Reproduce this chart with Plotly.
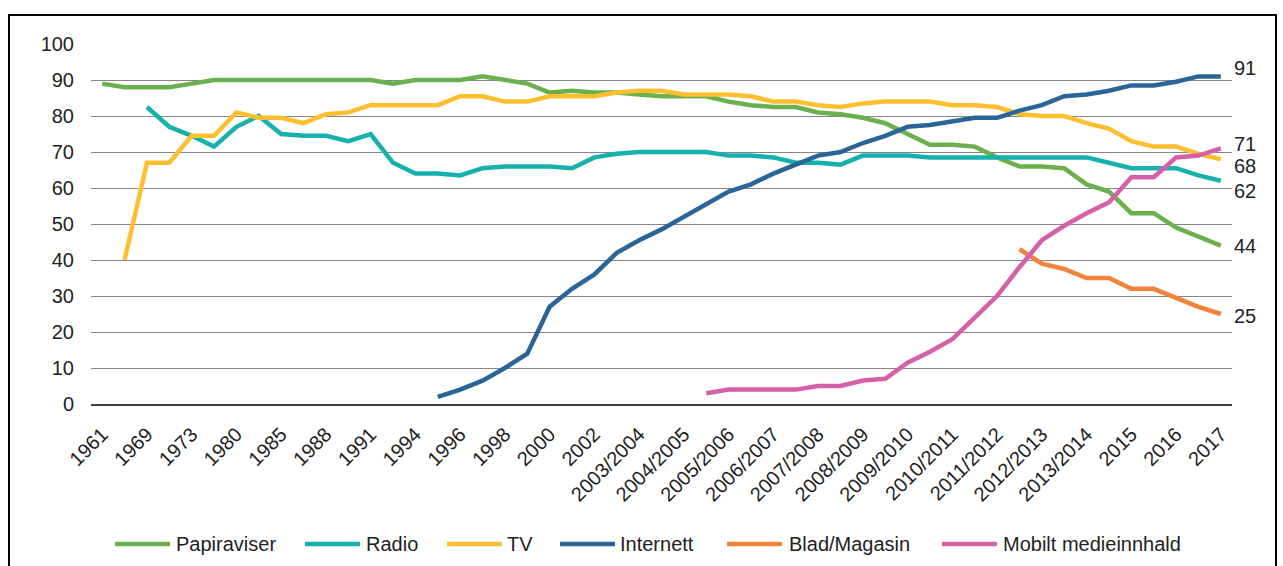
import plotly.graph_objects as go

# Survey rounds from 1961 to 2017 (every other round carries a tick label)
tick_labels = ["1961", "1969", "1973", "1980", "1985", "1988", "1991", "1994",
               "1996", "1998", "2000", "2002", "2003/2004", "2004/2005",
               "2005/2006", "2006/2007", "2007/2008", "2008/2009", "2009/2010",
               "2010/2011", "2011/2012", "2012/2013", "2013/2014", "2015",
               "2016", "2017"]
n_rounds = 51
rounds = list(range(n_rounds))
tick_positions = rounds[::2]

N = None
papiraviser = [89, 88, 88, 88, 89, 90, 90, 90, 90, 90, 90, 90, 90, 89, 90, 90, 90,
               91, 90, 89, 86.5, 87, 86.5, 86.5, 86, 85.5, 85.5, 85.5, 84, 83,
               82.5, 82.5, 81, 80.5, 79.5, 78, 75, 72, 72, 71.5, 68.5, 66, 66,
               65.5, 61, 59, 53, 53, 49, 46.5, 44]
radio = [N, N, 82.5, 77, 74.5, 71.5, 77, 80, 75, 74.5, 74.5, 73, 75, 67, 64, 64,
         63.5, 65.5, 66, 66, 66, 65.5, 68.5, 69.5, 70, 70, 70, 70, 69, 69, 68.5,
         67, 67, 66.5, 69, 69, 69, 68.5, 68.5, 68.5, 68.5, 68.5, 68.5, 68.5,
         68.5, 67, 65.5, 65.5, 65.5, 63.5, 62]
tv = [N, 40, 67, 67, 74.5, 74.5, 81, 79.5, 79.5, 78, 80.5, 81, 83, 83, 83, 83,
      85.5, 85.5, 84, 84, 85.5, 85.5, 85.5, 86.5, 87, 87, 86, 86, 86, 85.5, 84,
      84, 83, 82.5, 83.5, 84, 84, 84, 83, 83, 82.5, 80.5, 80, 80, 78, 76.5, 73,
      71.5, 71.5, 69.5, 68]
internett = [N] * 15 + [2, 4, 6.5, 10, 14, 27, 32, 36, 42, 45.5, 48.5, 52, 55.5,
                        59, 61, 64, 66.5, 69, 70, 72.5, 74.5, 77, 77.5, 78.5,
                        79.5, 79.5, 81.5, 83, 85.5, 86, 87, 88.5, 88.5, 89.5,
                        91, 91]
blad_magasin = [N] * 41 + [43, 39, 37.5, 35, 35, 32, 32, 29.5, 27, 25]
mobilt = [N] * 27 + [3, 4, 4, 4, 4, 5, 5, 6.5, 7, 11.5, 14.5, 18, 24, 30, 38,
                     45.5, 49.5, 53, 56, 63, 63, 68.5, 69, 71]

series = [
    ("Papiraviser", papiraviser, "#6ab04c", 0),
    ("Radio", radio, "#17b1ad", -10),
    ("TV", tv, "#fdbf2d", -7),
    ("Internett", internett, "#2b6597", 8),
    ("Blad/Magasin", blad_magasin, "#f0823a", -2),
    ("Mobilt medieinnhald", mobilt, "#d660a8", 4),
]

FONT = "Arial, Liberation Sans, sans-serif"
TEXT = "#222222"
W, H = 1283, 566
L, R, T, B = 91, 51, 44, 162


def px_x(px):
    return (px - L) / (W - L - R)


def px_y(py):
    return (H - B - py) / (H - T - B)


fig = go.Figure()
for name, values, color, _ in series:
    fig.add_trace(go.Scatter(
        x=rounds, y=values, name=name, mode="lines",
        line=dict(color=color, width=4.5),
        connectgaps=False, showlegend=False, hoverinfo="skip",
    ))

# End-of-line value labels
for name, values, color, shift in series:
    last = values[-1]
    fig.add_annotation(
        x=rounds[-1], y=last, text=f"{last:g}", showarrow=False,
        xanchor="left", yanchor="middle", xshift=11, yshift=shift,
        font=dict(family=FONT, size=20, color=TEXT),
    )

# Legend row along the bottom
legend_items = [(115, 174), (305, 364), (447, 505), (560, 618), (727, 787), (942, 1001)]
legend_y = 544
for (line_x0, text_x), (name, _, color, _) in zip(legend_items, series):
    fig.add_shape(
        type="line", xref="paper", yref="paper",
        x0=px_x(line_x0), x1=px_x(line_x0 + 55),
        y0=px_y(legend_y), y1=px_y(legend_y),
        line=dict(color=color, width=4.5),
    )
    fig.add_annotation(
        xref="paper", yref="paper", x=px_x(text_x), y=px_y(legend_y),
        text=name, showarrow=False, xanchor="left", yanchor="middle",
        font=dict(family=FONT, size=20, color=TEXT),
    )

# Outer frame
fig.add_shape(
    type="rect", xref="paper", yref="paper",
    x0=px_x(9), x1=px_x(1276), y0=px_y(572), y1=px_y(15),
    line=dict(color="#000000", width=2), fillcolor="rgba(0,0,0,0)", layer="below",
)

fig.update_layout(
    width=W, height=H,
    margin=dict(l=L, r=R, t=T, b=B, autoexpand=False),
    paper_bgcolor="white", plot_bgcolor="white",
    font=dict(family=FONT, size=20, color=TEXT),
    showlegend=False,
    xaxis=dict(
        range=[-0.5, n_rounds - 0.5], tickmode="array",
        tickvals=tick_positions, ticktext=tick_labels, tickangle=-45,
        showgrid=False, zeroline=False, showline=True,
        linecolor="#404040", linewidth=1.5, ticks="",
        ticklabelstandoff=9,
        tickfont=dict(family=FONT, size=20, color=TEXT),
    ),
    yaxis=dict(
        range=[0, 100], dtick=10, showgrid=True, gridcolor="#858585",
        gridwidth=1.2, zeroline=False, showline=False, ticks="",
        ticklabelstandoff=16,
        tickfont=dict(family=FONT, size=20, color=TEXT),
    ),
)

fig.write_html("out.html")
